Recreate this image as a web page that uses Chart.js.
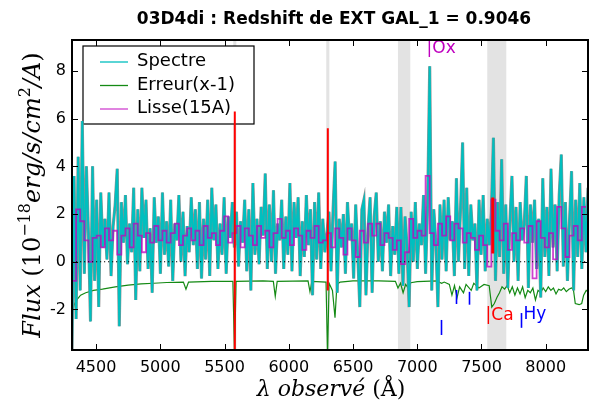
<!DOCTYPE html>
<html lang="fr">
<head>
<meta charset="UTF-8">
<title>03D4di - Redshift de EXT GAL_1</title>
<script src="https://cdn.jsdelivr.net/npm/chart.js"></script>
<style>
    body { margin: 0; background: #fff; }
    #spectre { display: block; }
</style>
</head>
<body>
<canvas id="spectre" width="600" height="400"></canvas>
<script>
// Grille en longueur d'onde du spectre (Angstrom)
var lambdaStart = 4313;
var lambdaStep = 16;

// Flux du spectre (10^-18 erg/s/cm2/A), un point tous les 16 A
var flux = [
    -3.9, 3.6, -2.4, 4.4, -1.2, 5.9, -0.5, 4.0, 1.2, -2.5, 4.0, -0.8, 2.6, -1.9, 2.9, 0.6,
    1.8, 0.1, 2.9, -0.6, 1.5, 2.4, 3.9, -2.7, 2.5, 0.8, 2.8, -0.1, 1.6, 0.4, 3.1, -1.6,
    2.2, -0.4, 3.1, 1.0, 2.6, -0.3, 1.4, -1.3, 2.7, 0.8, 1.9, -0.5, 2.9, 0.3, 1.7, -0.2,
    2.6, -0.8, 1.6, 0.9, 2.8, 0.0, 2.1, -0.6, 1.5, 0.4, 2.7, 0.7, 2.2, -0.3, 2.5, -0.7,
    1.8, 0.1, 2.6, -0.6, 3.1, 0.9, 2.4, -0.3, 1.6, 0.3, 2.7, -0.5, 1.9, 1.0, 2.5, 0.6,
    2.1, -0.2, 1.7, 0.8, 2.6, -0.4, 2.2, -1.2, 3.3, 0.3, 1.8, -0.1, 2.3, 1.1, 3.7, -0.3,
    2.4, 0.0, 3.0, -0.5, 1.6, 0.9, 2.6, -0.3, 1.9, 0.3, 3.3, -0.4, 2.5, 1.0, 2.7, -0.6,
    1.7, 0.2, 2.8, 0.7, 2.2, -1.4, 2.5, 0.1, 2.9, -0.3, 1.8, 0.4, 1.2, 2.1, -0.4, 2.2,
    4.2, -1.3, 1.8, 0.6, 2.0, -0.5, 2.5, 0.9, 1.6, -0.7, 2.4, 0.3, -1.9, 2.2, 2.6, -1.4,
    1.4, 2.7, -1.3, 1.9, 2.9, 0.0, 1.7, -0.4, 2.1, 0.8, 2.4, -0.6, 1.5, 0.3, 2.3, -0.5,
    2.3, -1.0, 1.9, 0.6, -1.9, 2.1, 0.0, 2.5, -0.3, 1.6, 0.7, 2.8, -0.5, 2.4, 8.2, -1.2,
    2.2, 0.8, -1.9, 2.4, 0.1, 2.6, -0.4, 2.7, 0.9, 1.7, -0.6, 3.5, 0.0, 2.2, 5.0, -0.3,
    3.1, -0.6, 2.4, 0.9, 1.6, -1.2, 2.6, 0.3, 2.8, -0.4, 1.8, 0.7, 2.1, 5.2, -0.8, 2.5,
    0.2, 4.3, -0.5, 2.4, -1.1, 1.7, 3.6, 0.0, 2.3, -0.8, 2.5, 0.9, 1.6, 3.6, -1.1, 2.4,
    0.8, 2.6, -0.3, 1.8, -1.5, 3.5, 0.2, 2.3, -0.6, 3.9, 0.6, 2.4, -0.4, 2.8, 4.5, -0.2,
    2.5, -0.8, 1.7, 3.8, -1.2, 2.6, 0.2, 3.3, -0.3, 2.7, 0.4, 3.1
];

// Spectre lisse (15A), en marches de 32 A
var smoothStart = 4313;
var smoothStep = 32;
var smoothFlux = [
    0.6, -0.8, 2.2, 1.7, 0.9, 0.0, 1.0, 1.1, 0.6, 1.4, 0.9, 1.3, 0.3, 1.1, 1.4, 0.6,
    1.6, 1.1, 0.4, 1.2, 0.8, 1.5, 0.9, 1.3, 0.8, 1.2, 1.6, 0.7, 1.1, 1.4, 0.9, 1.3,
    0.7, 1.5, 1.0, 1.2, 0.7, 1.3, 1.9, 0.8, 1.2, 1.5, 0.6, 1.4, 1.1, 0.7, 1.5, 1.0,
    1.3, 0.6, 1.2, 1.8, 1.0, 1.3, 0.7, 1.4, 1.1, 0.5, 1.3, 1.0, 1.5, 0.8, 0.9, 1.2,
    0.6, 1.4, 1.0, 0.3, 1.4, 0.9, 0.2, 1.3, 0.8, 1.6, 1.1, 1.6, 0.7, 1.2, 1.0, 0.5,
    0.9, -0.1, 0.4, 1.8, 1.0, 1.3, 1.1, 3.6, 1.2, 0.7, 1.6, 1.1, 1.9, 0.9, 1.6, 1.4,
    0.8, 1.2, 1.0, 0.5, 1.1, 0.7, -0.2, 2.6, 1.3, 0.9, 1.6, 0.5, 1.2, 0.9, 1.4, 0.8,
    1.5, -0.7, 1.7, 1.0, 0.6, 1.2, 0.1, 2.3, 1.4, 0.2, 1.1, 1.5, 0.9, 2.3
];

// Erreur (decalee de -1)
var errLambda = [
    4313, 4330, 4350, 4380, 4420, 4480, 4550, 4650, 4750, 4850, 4950, 5050, 5180, 5200, 5220,
    5400, 5565, 5578, 5590, 5800, 5880, 5895, 5910, 6150, 6165, 6180, 6290, 6302, 6314, 6340,
    6360, 6375, 6400, 6500, 6700, 6830, 6850, 6870, 6890, 6910, 6930, 6950, 7000, 7150, 7190,
    7210, 7250, 7270, 7290, 7310, 7330, 7360, 7380, 7420, 7440, 7480, 7520, 7560, 7580, 7600,
    7620, 7640, 7660, 7680, 7700, 7720, 7740, 7760, 7780, 7800, 7820, 7840, 7860, 7880, 7900,
    7920, 7940, 7960, 7980, 8000, 8020, 8040, 8060, 8080, 8100, 8120, 8140, 8160, 8180, 8200,
    8215, 8230, 8260, 8280, 8295, 8315, 8329
];
var errFlux = [
    -2.2, -1.8, -1.6, -1.4, -1.3, -1.2, -1.15, -1.05, -0.98, -0.93, -0.9, -0.87, -0.85, -1.15, -0.85,
    -0.82, -0.82, -3.9, -0.82, -0.8, -0.82, -1.45, -0.82, -0.8, -1.25, -0.82, -0.85, -3.9, -0.9, -1.2,
    -2.35, -0.95, -0.85, -0.8, -0.8, -0.82, -1.1, -0.9, -1.3, -0.95, -1.1, -0.88, -0.83, -0.8, -0.9,
    -0.85, -0.95, -1.4, -1.0, -1.5, -1.05, -1.3, -0.95, -1.2, -0.9, -1.1, -0.95, -1.0, -1.9, -1.75,
    -1.5, -1.3, -1.05, -1.15, -1.0, -1.3, -1.05, -1.4, -1.1, -1.35, -1.05, -1.5, -1.2, -1.3, -1.1,
    -1.6, -1.2, -1.3, -1.1, -1.25, -1.05, -1.2, -1.1, -1.35, -1.15, -1.2, -1.1, -1.25, -1.15, -1.1,
    -1.15, -1.75, -1.8, -1.75, -1.4, -1.2, -1.25
];

// Pixels masques (traits rouges)
var redLambda = [5580, 6304, 7588];
var redTop = [6.3, 5.6, 2.7];
var redBottom = [-3.9, -1.2, 0.35];

// Zones grisees (raies du ciel, bandes telluriques)
var bandStart = [5568, 6292, 6850, 7545];
var bandEnd = [5592, 6316, 6946, 7693];

// Raies identifiees
var lineNames = ['|Ox', '|Ca', 'Hy'];
var lineLambda = [7073, 7532, 7827];
var lineY = [8.95, -2.25, -2.2];
var markLambda = [7182, 7299, 7400, 7810];
var markTop = [-2.44, -1.18, -1.26, -2.15];
var markBottom = [-3.07, -1.77, -1.8, -2.77];

var xTickValues = [4500, 5000, 5500, 6000, 6500, 7000, 7500, 8000];
var yTickValues = [-2, 0, 2, 4, 6, 8];
var legendNames = ['Spectre', 'Erreur(x-1)', 'Lisse(15A)'];

var cCyan = '#00bfbf';
var cGreen = '#148a14';
var cMagenta = 'rgba(191, 0, 191, 0.75)';
var cGrey = 'rgba(125, 125, 125, 0.85)';

var specPts = flux.map(function (v, i) { return { x: lambdaStart + i * lambdaStep, y: v }; });
var smoothPts = smoothFlux.map(function (v, i) { return { x: smoothStart + i * smoothStep, y: v }; });
var errPts = errFlux.map(function (v, i) { return { x: errLambda[i], y: v }; });

var datasets = [];
redLambda.forEach(function (l, i) {
    datasets.push({
        data: [{ x: l, y: redTop[i] }, { x: l, y: redBottom[i] }],
        borderColor: '#ff0000',
        borderWidth: i === 2 ? 3 : 2,
        order: 0
    });
});
datasets.push({ label: 'Lisse(15A)', data: smoothPts, borderColor: cMagenta, borderWidth: 1.8, stepped: 'after', order: 1 });
datasets.push({ label: 'Spectre', data: specPts, borderColor: cCyan, borderWidth: 2, order: 2 });
datasets.push({ label: 'contour', data: specPts, borderColor: cGrey, borderWidth: 3.1, order: 3 });
datasets.push({ label: 'Erreur(x-1)', data: errPts, borderColor: cGreen, borderWidth: 1.2, order: 4 });

// texte en plusieurs morceaux (pour les exposants)
function drawPieces(ctx, parts, cx, baseY) {
    var total = 0;
    parts.forEach(function (p) { ctx.font = p.f; p.w = ctx.measureText(p.t).width; total += p.w; });
    var x = cx - total / 2;
    ctx.textAlign = 'left';
    ctx.textBaseline = 'alphabetic';
    parts.forEach(function (p) {
        ctx.font = p.f;
        ctx.fillText(p.t, x, baseY + (p.dy || 0));
        x += p.w;
    });
}

var decor = {
    id: 'decor',
    beforeDatasetsDraw: function (chart) {
        var ctx = chart.ctx, a = chart.chartArea, xs = chart.scales.x;
        ctx.save();
        ctx.fillStyle = '#e3e3e3';
        for (var i = 0; i < bandStart.length; i++) {
            var x0 = xs.getPixelForValue(bandStart[i]);
            var x1 = xs.getPixelForValue(bandEnd[i]);
            ctx.fillRect(x0, a.top, x1 - x0, a.bottom - a.top);
        }
        // legende (sous les donnees, comme dans l'original)
        ctx.fillStyle = '#fff';
        ctx.fillRect(a.left + 11, a.top + 6, 171, 78);
        ctx.strokeStyle = '#000';
        ctx.lineWidth = 1.2;
        ctx.strokeRect(a.left + 11, a.top + 6, 171, 78);
        var cols = [cCyan, cGreen, cMagenta];
        ctx.font = '18px "DejaVu Sans"';
        ctx.textBaseline = 'alphabetic';
        ctx.textAlign = 'left';
        for (var k = 0; k < legendNames.length; k++) {
            var ly = a.top + 22 + k * 23.5;
            ctx.strokeStyle = cols[k];
            ctx.lineWidth = 1.3;
            ctx.beginPath();
            ctx.moveTo(a.left + 28, ly);
            ctx.lineTo(a.left + 56, ly);
            ctx.stroke();
            ctx.fillStyle = '#000';
            ctx.fillText(legendNames[k], a.left + 65, ly + 4);
        }
        ctx.restore();
    },
    afterDatasetsDraw: function (chart) {
        var ctx = chart.ctx, a = chart.chartArea, xs = chart.scales.x, ys = chart.scales.y;
        ctx.save();
        // ligne du zero
        ctx.strokeStyle = '#000';
        ctx.lineWidth = 1.2;
        ctx.setLineDash([1.2, 2.8]);
        ctx.beginPath();
        ctx.moveTo(a.left, ys.getPixelForValue(0));
        ctx.lineTo(a.right, ys.getPixelForValue(0));
        ctx.stroke();
        ctx.setLineDash([]);
        // raies
        var lineCols = ['#bf00bf', '#ff0000', '#0000ff'];
        ctx.font = '17px "DejaVu Sans"';
        ctx.textAlign = 'left';
        ctx.textBaseline = 'middle';
        for (var i = 0; i < lineNames.length; i++) {
            ctx.fillStyle = lineCols[i];
            ctx.fillText(lineNames[i], xs.getPixelForValue(lineLambda[i]), ys.getPixelForValue(lineY[i]));
        }
        ctx.strokeStyle = '#0000ff';
        ctx.lineWidth = 1.6;
        for (var j = 0; j < markLambda.length; j++) {
            var mx = Math.round(xs.getPixelForValue(markLambda[j])) + 0.5;
            ctx.beginPath();
            ctx.moveTo(mx, ys.getPixelForValue(markTop[j]));
            ctx.lineTo(mx, ys.getPixelForValue(markBottom[j]));
            ctx.stroke();
        }
        ctx.restore();
    },
    afterDraw: function (chart) {
        var ctx = chart.ctx, a = chart.chartArea, xs = chart.scales.x, ys = chart.scales.y;
        ctx.save();
        // cadre et graduations vers l'interieur
        ctx.strokeStyle = '#000';
        ctx.lineWidth = 1;
        xTickValues.forEach(function (v) {
            var px = Math.round(xs.getPixelForValue(v)) + 0.5;
            ctx.beginPath();
            ctx.moveTo(px, a.bottom); ctx.lineTo(px, a.bottom - 6);
            ctx.moveTo(px, a.top); ctx.lineTo(px, a.top + 6);
            ctx.stroke();
        });
        yTickValues.forEach(function (v) {
            var py = Math.round(ys.getPixelForValue(v)) + 0.5;
            ctx.beginPath();
            ctx.moveTo(a.left, py); ctx.lineTo(a.left + 6, py);
            ctx.moveTo(a.right, py); ctx.lineTo(a.right - 6, py);
            ctx.stroke();
        });
        ctx.lineWidth = 2;
        ctx.strokeRect(a.left, a.top, a.right - a.left, a.bottom - a.top);

        // titre
        ctx.fillStyle = '#000';
        ctx.font = 'bold 17px "DejaVu Sans"';
        ctx.textAlign = 'center';
        ctx.textBaseline = 'middle';
        ctx.fillText('03D4di : Redshift de EXT GAL_1 = 0.9046', (a.left + a.right) / 2 + 4, 20);

        // titre axe x
        var itx = 'italic 22px "DejaVu Serif"', upx = '22px "DejaVu Serif"';
        drawPieces(ctx, [
            { t: '\u03bb observ\u00e9 ', f: itx },
            { t: '(\u00c5)', f: upx }
        ], (a.left + a.right) / 2 + 1, 396);

        // titre axe y
        var it = 'italic 24px "DejaVu Serif"', up = '24px "DejaVu Serif"';
        ctx.translate(40, (a.top + a.bottom) / 2);
        ctx.rotate(-Math.PI / 2);
        var sm = '16px "DejaVu Serif"';
        drawPieces(ctx, [
            { t: 'Flux', f: it },
            { t: ' (10', f: up },
            { t: '\u221218', f: sm, dy: -10 },
            { t: 'erg/s/cm', f: it },
            { t: '2', f: sm, dy: -10 },
            { t: '/A', f: it },
            { t: ')', f: up }
        ], 0, 0);
        ctx.restore();
    }
};

var tickFont = { family: 'DejaVu Sans', size: 16 };
function plainLabel(v) { return String(v); }

new Chart(document.getElementById('spectre'), {
    type: 'line',
    data: { datasets: datasets },
    options: {
        responsive: false,
        animation: false,
        devicePixelRatio: 1,
        layout: { padding: { top: 40, right: 12, left: 0, bottom: 0 } },
        elements: { point: { radius: 0 }, line: { tension: 0 } },
        plugins: { legend: { display: false }, tooltip: { enabled: false }, title: { display: false } },
        scales: {
            x: {
                type: 'linear',
                min: 4313,
                max: 8329,
                afterBuildTicks: function (s) { s.ticks = xTickValues.map(function (v) { return { value: v }; }); },
                afterFit: function (s) { s.height = 50; },
                grid: { display: false, drawTicks: false },
                border: { display: false },
                ticks: { color: '#000', font: tickFont, padding: 8, maxRotation: 0, autoSkip: false, callback: plainLabel }
            },
            y: {
                type: 'linear',
                min: -3.7,
                max: 9.3,
                afterBuildTicks: function (s) { s.ticks = yTickValues.map(function (v) { return { value: v }; }); },
                afterFit: function (s) { s.width = 72; },
                grid: { display: false, drawTicks: false },
                border: { display: false },
                ticks: { color: '#000', font: tickFont, padding: 6, callback: plainLabel }
            }
        }
    },
    plugins: [decor]
});
</script>
</body>
</html>
